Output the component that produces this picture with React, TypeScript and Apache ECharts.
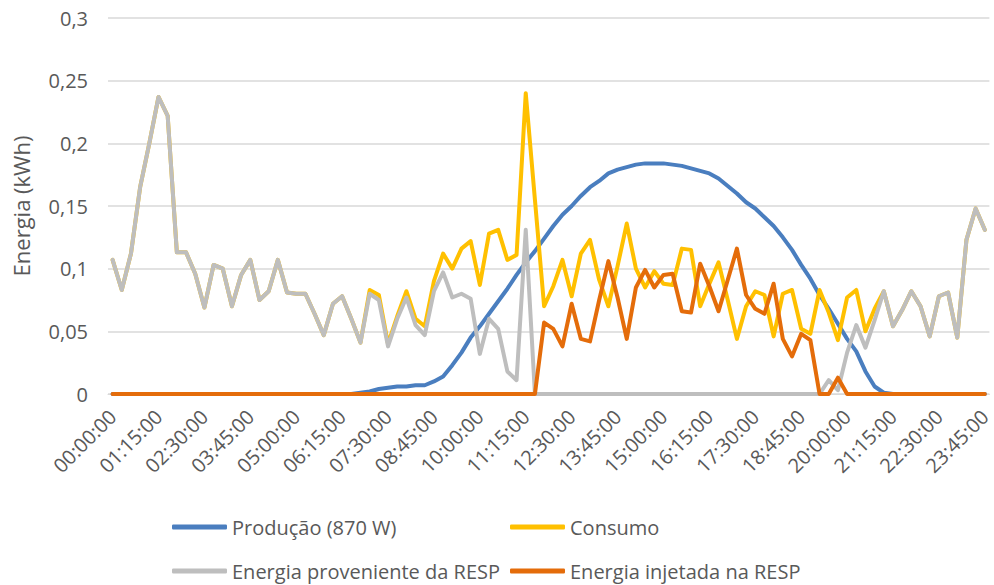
import React, { useEffect, useRef } from "react";
import * as echarts from "echarts";

// 15-minute intervals over one day
const times: string[] = Array.from({ length: 96 }, (_, i) => {
  const h = String(Math.floor(i / 4)).padStart(2, "0");
  const m = String((i % 4) * 15).padStart(2, "0");
  return `${h}:${m}:00`;
});

const yTicks = [0, 0.05, 0.1, 0.15, 0.2, 0.25, 0.3];

// Energia (kWh) per 15-minute interval
const producao = [
  0, 0, 0, 0, 0, 0, 0, 0, 0, 0, 0, 0, 0, 0, 0, 0,
  0, 0, 0, 0, 0, 0, 0, 0, 0, 0, 0, 0.001, 0.002, 0.004, 0.005, 0.006,
  0.006, 0.007, 0.007, 0.01, 0.014, 0.023, 0.033, 0.045, 0.054, 0.064, 0.074, 0.084, 0.095, 0.105, 0.114, 0.124,
  0.134, 0.143, 0.15, 0.158, 0.165, 0.17, 0.176, 0.179, 0.181, 0.183, 0.184, 0.184, 0.184, 0.183, 0.182, 0.18,
  0.178, 0.176, 0.172, 0.166, 0.16, 0.153, 0.148, 0.141, 0.134, 0.125, 0.115, 0.103, 0.092, 0.079, 0.068, 0.056,
  0.044, 0.034, 0.018, 0.006, 0.001, 0, 0, 0, 0, 0, 0, 0, 0, 0, 0, 0,
];

const consumo = [
  0.107, 0.083, 0.112, 0.165, 0.2, 0.237, 0.222, 0.113, 0.113, 0.096, 0.069, 0.103, 0.1, 0.07, 0.095, 0.107,
  0.075, 0.082, 0.107, 0.081, 0.08, 0.08, 0.064, 0.047, 0.072, 0.078, 0.06, 0.041, 0.083, 0.079, 0.04, 0.062,
  0.082, 0.06, 0.054, 0.09, 0.112, 0.1, 0.116, 0.122, 0.087, 0.128, 0.131, 0.107, 0.111, 0.24, 0.155, 0.07,
  0.086, 0.107, 0.078, 0.112, 0.123, 0.091, 0.07, 0.102, 0.136, 0.1, 0.085, 0.098, 0.088, 0.087, 0.116, 0.115,
  0.07, 0.088, 0.105, 0.075, 0.044, 0.07, 0.082, 0.079, 0.046, 0.08, 0.083, 0.052, 0.048, 0.083, 0.065, 0.043,
  0.077, 0.083, 0.05, 0.068, 0.082, 0.054, 0.067, 0.082, 0.07, 0.046, 0.078, 0.081, 0.045, 0.123, 0.148, 0.131,
];

const provenienteResp = [
  0.107, 0.083, 0.112, 0.165, 0.2, 0.237, 0.222, 0.113, 0.113, 0.096, 0.069, 0.103, 0.1, 0.07, 0.095, 0.107,
  0.075, 0.082, 0.107, 0.081, 0.08, 0.08, 0.064, 0.047, 0.072, 0.078, 0.06, 0.041, 0.08, 0.075, 0.038, 0.06,
  0.077, 0.055, 0.047, 0.082, 0.097, 0.077, 0.08, 0.076, 0.032, 0.06, 0.052, 0.018, 0.011, 0.131, 0, 0,
  0, 0, 0, 0, 0, 0, 0, 0, 0, 0, 0, 0, 0, 0, 0, 0,
  0, 0, 0, 0, 0, 0, 0, 0, 0, 0, 0, 0, 0, 0, 0.011, 0.003,
  0.033, 0.055, 0.037, 0.059, 0.082, 0.054, 0.067, 0.082, 0.07, 0.046, 0.078, 0.081, 0.045, 0.123, 0.148, 0.131,
];

const injetadaResp = [
  0, 0, 0, 0, 0, 0, 0, 0, 0, 0, 0, 0, 0, 0, 0, 0,
  0, 0, 0, 0, 0, 0, 0, 0, 0, 0, 0, 0, 0, 0, 0, 0,
  0, 0, 0, 0, 0, 0, 0, 0, 0, 0, 0, 0, 0, 0, 0, 0.057,
  0.052, 0.038, 0.072, 0.044, 0.042, 0.075, 0.106, 0.077, 0.044, 0.085, 0.099, 0.085, 0.095, 0.096, 0.066, 0.065,
  0.104, 0.086, 0.066, 0.091, 0.116, 0.079, 0.068, 0.064, 0.088, 0.044, 0.03, 0.048, 0.043, 0, 0, 0.013,
  0, 0, 0, 0, 0, 0, 0, 0, 0, 0, 0, 0, 0, 0, 0, 0,
];

const seriesNames = [
  "Produção (870 W)",
  "Consumo",
  "Energia proveniente da RESP",
  "Energia injetada na RESP",
];
const seriesColors = ["#4A7EBF", "#FFC000", "#BEBEBE", "#E46C0A"];

const FONT = "'Open Sans', 'Liberation Sans', sans-serif";
const TEXT = "#595959";

export default function App() {
  const ref = useRef<HTMLDivElement>(null);

  useEffect(() => {
    if (!ref.current) return;
    const chart = echarts.init(ref.current, null, { renderer: "svg" });

    const values = [producao, consumo, provenienteResp, injetadaResp];

    const legendBase = {
      icon: "roundRect",
      itemWidth: 55,
      itemHeight: 5,
      itemGap: 0,
      padding: 0,
      selectedMode: false,
      textStyle: { fontSize: 20, color: TEXT, fontFamily: FONT },
    };

    chart.setOption({
      animation: false,
      textStyle: { fontFamily: FONT },
      grid: { left: 108, right: 4, top: 18, bottom: 191, containLabel: false },
      legend: [
        { ...legendBase, data: [seriesNames[0]], left: 172, top: 517 },
        { ...legendBase, data: [seriesNames[1]], left: 510, top: 517 },
        { ...legendBase, data: [seriesNames[2]], left: 172, top: 561 },
        { ...legendBase, data: [seriesNames[3]], left: 510, top: 561 },
      ],
      xAxis: {
        type: "category",
        data: times,
        boundaryGap: true,
        axisLine: { show: true, lineStyle: { color: "#D9D9D9", width: 1 } },
        axisTick: { show: false },
        axisLabel: {
          interval: 4,
          rotate: 45,
          margin: 19,
          fontSize: 20,
          color: TEXT,
          fontFamily: FONT,
        },
        splitLine: { show: false },
      },
      yAxis: {
        type: "value",
        min: 0,
        max: 0.3,
        interval: 0.05,
        name: "Energia (kWh)",
        nameLocation: "middle",
        nameGap: 76,
        nameTextStyle: { fontSize: 22, color: TEXT, fontFamily: FONT },
        axisLine: { show: false },
        axisTick: { show: false },
        axisLabel: {
          margin: 20,
          fontSize: 20,
          color: TEXT,
          fontFamily: FONT,
          formatter: (v: number) => {
            const t = yTicks.find((k) => Math.abs(k - v) < 1e-9);
            return String(t ?? v).replace(".", ",");
          },
        },
        splitLine: { lineStyle: { color: "#D9D9D9", width: 1.5 } },
      },
      series: seriesNames.map((name, k) => ({
        name,
        type: "line",
        data: values[k],
        symbol: "none",
        smooth: false,
        itemStyle: { color: seriesColors[k] },
        lineStyle: { color: seriesColors[k], width: 4, cap: "round", join: "round" },
        emphasis: { disabled: true },
        z: 2 + k,
      })),
    });

    return () => chart.dispose();
  }, []);

  return (
    <div
      ref={ref}
      style={{ position: "fixed", left: 0, top: 0, width: 994, height: 585, background: "#fff" }}
    />
  );
}
